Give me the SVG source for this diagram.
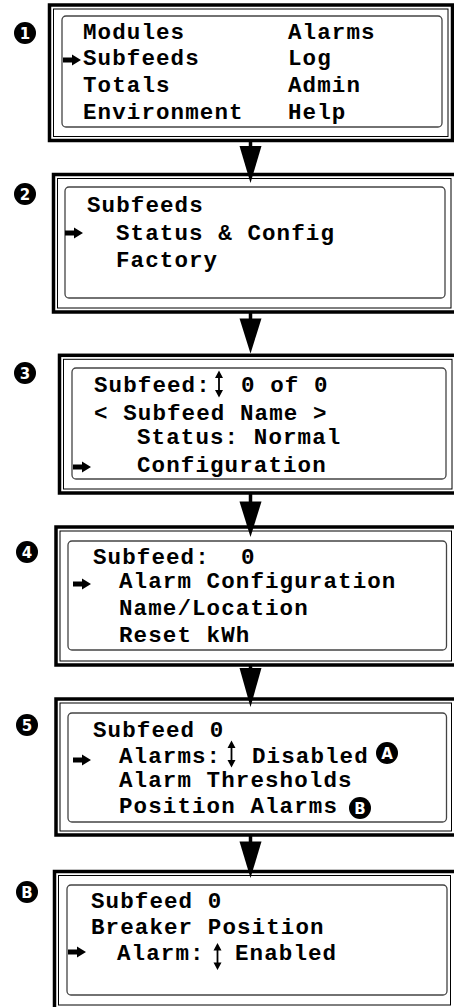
<svg xmlns="http://www.w3.org/2000/svg" xmlns:xlink="http://www.w3.org/1999/xlink" width="454" height="1007" viewBox="0 0 454 1007">
<style>
.outer{fill:none;stroke:#000;stroke-width:3.5}
.inner{fill:none;stroke:#000;stroke-width:1}
.screen{fill:none;stroke:#444;stroke-width:1.3}
.t{font-family:"Liberation Mono","Courier New",monospace;font-weight:bold;font-size:22.5px;letter-spacing:1.1px;fill:#000}
.num{font-family:"DejaVu Sans","Liberation Sans",sans-serif;font-weight:bold;font-size:15px;fill:#fff;text-anchor:middle}
.shaft{stroke:#000;stroke-width:3.5}
</style>
<defs>
<path id="ptr" d="M0,-2.5 H9 V-5.5 L18,0 L9,5.5 V2.5 H0 Z" fill="#000"/>
<g id="ud">
<line x1="0" y1="-8" x2="0" y2="8" stroke="#000" stroke-width="1.8"/>
<path d="M-4,-6 L0,-13.5 L4,-6 Z M-4,6 L0,13.5 L4,6 Z" fill="#000"/>
</g>
</defs>
<rect width="454" height="1007" fill="#fff"/>

<g id="connectors">
<line class="shaft" x1="250.5" y1="140" x2="250.5" y2="148"/>
<polygon points="239.5,146 261.5,146 250.5,183"/>
<line class="shaft" x1="250.5" y1="312" x2="250.5" y2="320"/>
<polygon points="239.5,318.5 261.5,318.5 250.5,353.5"/>
<line class="shaft" x1="250.5" y1="493" x2="250.5" y2="503"/>
<polygon points="239.5,501.5 261.5,501.5 250.5,537"/>
<line class="shaft" x1="250.5" y1="665" x2="250.5" y2="670"/>
<polygon points="239.5,668 261.5,668 250.5,707"/>
<line class="shaft" x1="250.5" y1="835" x2="250.5" y2="843"/>
<polygon points="239.5,841.5 261.5,841.5 250.5,878"/>
</g>

<g id="node1">
<circle cx="25" cy="33" r="11"/><text class="num" x="25" y="38.5">1</text>
<rect class="outer" x="49.5" y="5" width="403" height="135.5"/>
<rect class="inner" x="53.5" y="9" width="394.5" height="127.5"/>
<rect class="screen" x="62" y="16" width="380" height="111" rx="4"/>
<use xlink:href="#ptr" x="63" y="60"/>
<text class="t" x="83" y="39">Modules</text>
<text class="t" x="83" y="65">Subfeeds</text>
<text class="t" x="83" y="92">Totals</text>
<text class="t" x="83" y="119">Environment</text>
<text class="t" x="288" y="39">Alarms</text>
<text class="t" x="288" y="65">Log</text>
<text class="t" x="288" y="92">Admin</text>
<text class="t" x="288" y="119">Help</text>
</g>

<g id="node2">
<circle cx="25" cy="194" r="11"/><text class="num" x="25" y="199.5">2</text>
<rect class="outer" x="53.5" y="174.5" width="403" height="137.5"/>
<rect class="inner" x="57.5" y="178.5" width="393.5" height="129.5"/>
<rect class="screen" x="65" y="187" width="380" height="111" rx="4"/>
<use xlink:href="#ptr" x="65" y="233"/>
<text class="t" x="87" y="212">Subfeeds</text>
<text class="t" x="116" y="240">Status &amp; Config</text>
<text class="t" x="116" y="267">Factory</text>
</g>

<g id="node3">
<circle cx="25" cy="373" r="11"/><text class="num" x="25" y="378.5">3</text>
<rect class="outer" x="59.5" y="355.3" width="403" height="137.7"/>
<rect class="inner" x="63.5" y="359.3" width="388.5" height="129.7"/>
<rect class="screen" x="72" y="368" width="374" height="111" rx="4"/>
<use xlink:href="#ptr" x="73" y="467"/>
<text class="t" x="94" y="392">Subfeed:</text>
<use xlink:href="#ud" x="219" y="384"/>
<text class="t" x="241" y="392">0 of 0</text>
<text class="t" x="94" y="420">&lt; Subfeed Name &gt;</text>
<text class="t" x="137" y="444">Status: Normal</text>
<text class="t" x="137" y="472">Configuration</text>
</g>

<g id="node4">
<circle cx="27" cy="552" r="11"/><text class="num" x="27" y="557.5">4</text>
<rect class="outer" x="56" y="527" width="403" height="138"/>
<rect class="inner" x="60" y="531" width="391.5" height="130"/>
<rect class="screen" x="68" y="541" width="378.5" height="109" rx="4"/>
<use xlink:href="#ptr" x="73" y="584"/>
<text class="t" x="93" y="564">Subfeed:</text>
<text class="t" x="241" y="564">0</text>
<text class="t" x="119" y="588">Alarm Configuration</text>
<text class="t" x="119" y="615">Name/Location</text>
<text class="t" x="119" y="642">Reset kWh</text>
</g>

<g id="node5">
<circle cx="27" cy="725" r="11"/><text class="num" x="27" y="730.5">5</text>
<rect class="outer" x="56" y="699" width="403" height="136"/>
<rect class="inner" x="60" y="703" width="391.5" height="128"/>
<rect class="screen" x="68" y="713" width="378.5" height="109" rx="4"/>
<use xlink:href="#ptr" x="73" y="760"/>
<text class="t" x="93" y="737">Subfeed 0</text>
<text class="t" x="119" y="763">Alarms:</text>
<use xlink:href="#ud" x="231.5" y="754"/>
<text class="t" x="252" y="763">Disabled</text>
<circle cx="387" cy="753" r="11"/><text class="num" x="387" y="758.5">A</text>
<text class="t" x="119" y="787">Alarm Thresholds</text>
<text class="t" x="119" y="813">Position Alarms</text>
<circle cx="360" cy="808" r="11"/><text class="num" x="360" y="813.5">B</text>
</g>

<g id="nodeB">
<circle cx="27" cy="892" r="11"/><text class="num" x="27" y="897.5">B</text>
<rect class="outer" x="54.5" y="871.5" width="403" height="140"/>
<rect class="inner" x="58.5" y="875.5" width="392" height="129.5"/>
<rect class="screen" x="67" y="885" width="380" height="110" rx="4"/>
<use xlink:href="#ptr" x="68" y="952"/>
<text class="t" x="91" y="908">Subfeed 0</text>
<text class="t" x="91" y="934">Breaker Position</text>
<text class="t" x="117" y="960">Alarm:</text>
<use xlink:href="#ud" x="217.5" y="956.5"/>
<text class="t" x="235" y="960">Enabled</text>
</g>
</svg>
